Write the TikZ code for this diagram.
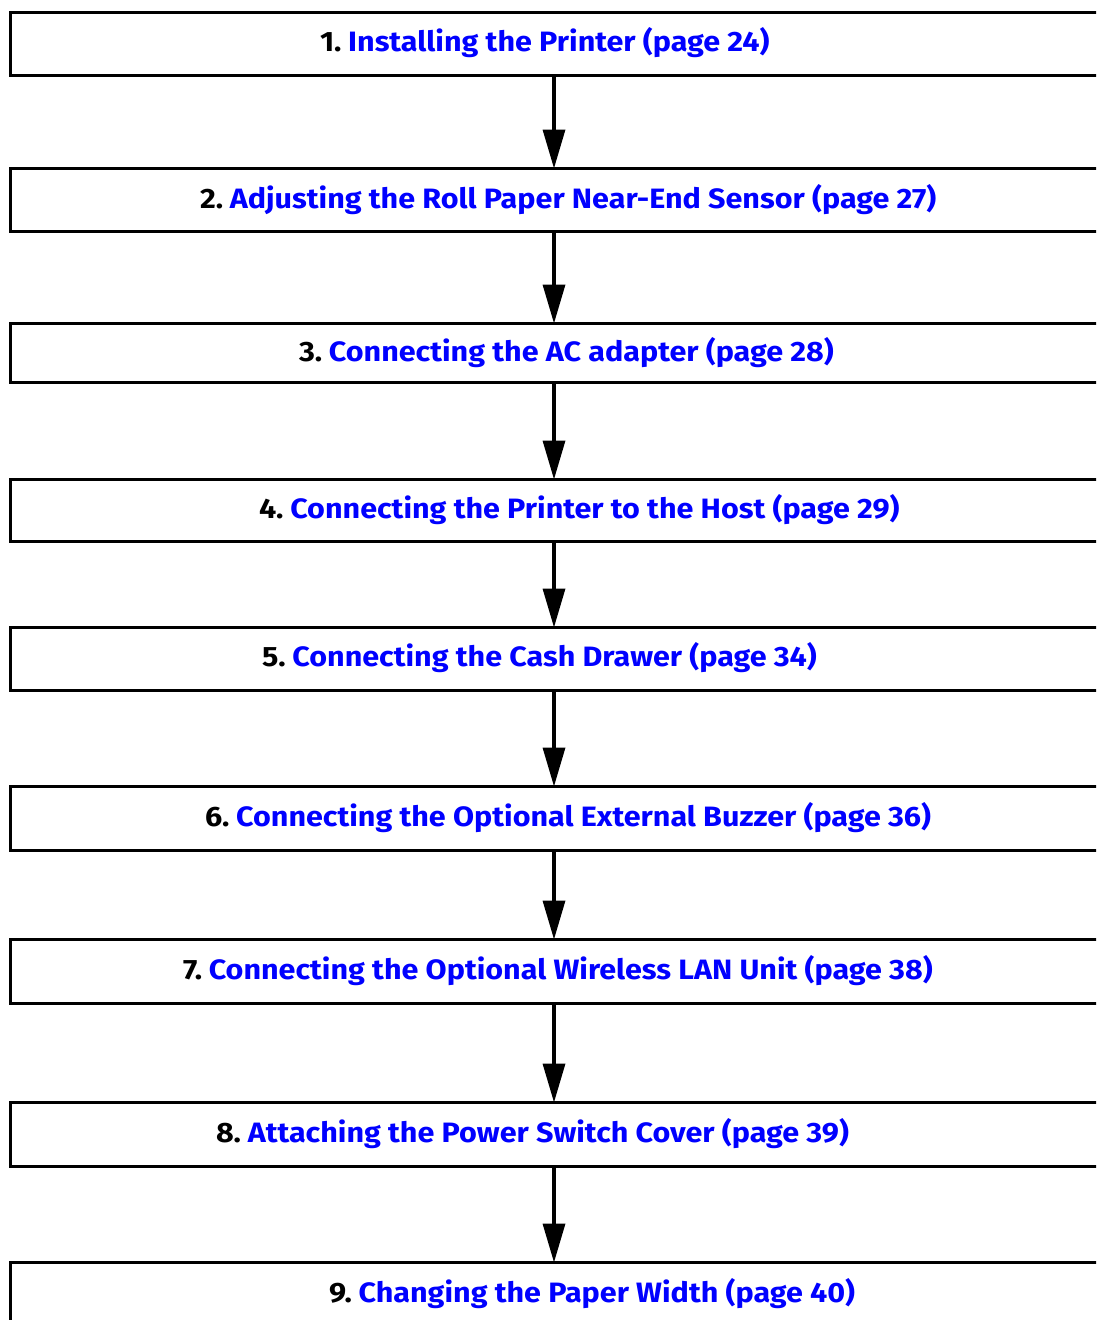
\documentclass[tikz,border=0pt]{standalone}
\usepackage{fontspec}
\setmainfont{Fira Sans}
\usetikzlibrary{arrows.meta}
\definecolor{linkblue}{RGB}{0,0,255}
\tikzset{
  stepbox/.style={draw=black, line width=3.5pt, inner sep=0pt, outer sep=0pt, anchor=north west, minimum width=1110pt},
  lbl/.style={anchor=base west, inner sep=0pt, outer sep=0pt, font=\fontsize{28}{28}\selectfont\bfseries},
  flow/.style={line width=3.5pt, -{Triangle[width=22pt,length=39pt]}}
}
\newcommand{\steptext}[2]{\scalebox{1.09}[1]{#1\hspace{0.22em}{\color{linkblue}#2}}}
\begin{document}
\begin{tikzpicture}[x=1pt,y=-1pt]
\useasboundingbox (0,0) rectangle (1096,1320);
\clip (0,0) rectangle (1096,1320);
\coordinate (ax) at (554,0);
% boxes
\node[stepbox, minimum height=63pt] (b1) at (10.5,12.5) {};
\node[stepbox, minimum height=63pt] (b2) at (10.5,168.5) {};
\node[stepbox, minimum height=59pt] (b3) at (10.5,323.5) {};
\node[stepbox, minimum height=62pt] (b4) at (10.5,479.5) {};
\node[stepbox, minimum height=63pt] (b5) at (10.5,627.5) {};
\node[stepbox, minimum height=64pt] (b6) at (10.5,786.5) {};
\node[stepbox, minimum height=64pt] (b7) at (10.5,939.5) {};
\node[stepbox, minimum height=64pt] (b8) at (10.5,1102.5) {};
\node[stepbox, minimum height=100pt] (b9) at (10.5,1262.5) {};
% labels
\node[lbl] (t1) at (320,51.5) {\steptext{1.}{Installing the Printer (page 24)}};
\node[lbl] (t2) at (200,208.5) {\steptext{2.}{Adjusting the Roll Paper Near-End Sensor (page 27)}};
\node[lbl] (t3) at (299,361.5) {\steptext{3.}{Connecting the AC adapter (page 28)}};
\node[lbl] (t4) at (259,518) {\steptext{4.}{Connecting the Printer to the Host (page 29)}};
\node[lbl] (t5) at (262,666.5) {\steptext{5.}{Connecting the Cash Drawer (page 34)}};
\node[lbl] (t6) at (205,826) {\steptext{6.}{Connecting the Optional External Buzzer (page 36)}};
\node[lbl] (t7) at (183,979) {\steptext{7.}{Connecting the Optional Wireless LAN Unit (page 38)}};
\node[lbl] (t8) at (216,1142) {\steptext{8.}{Attaching the Power Switch Cover (page 39)}};
\node[lbl] (t9) at (329,1302) {\steptext{9.}{Changing the Paper Width (page 40)}};
% arrows
\draw[flow] (b1.south -| ax) -- (b2.north -| ax);
\draw[flow] (b2.south -| ax) -- (b3.north -| ax);
\draw[flow] (b3.south -| ax) -- (b4.north -| ax);
\draw[flow] (b4.south -| ax) -- (b5.north -| ax);
\draw[flow] (b5.south -| ax) -- (b6.north -| ax);
\draw[flow] (b6.south -| ax) -- (b7.north -| ax);
\draw[flow] (b7.south -| ax) -- (b8.north -| ax);
\draw[flow] (b8.south -| ax) -- (b9.north -| ax);
\end{tikzpicture}
\end{document}
